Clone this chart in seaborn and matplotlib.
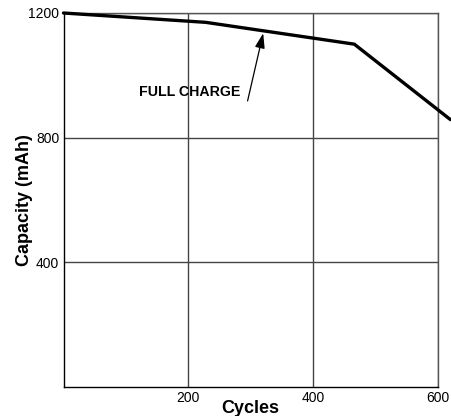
import matplotlib
matplotlib.use("Agg")
import matplotlib.pyplot as plt
import seaborn as sns
import pandas as pd

cycles = [0, 228, 466, 620]
capacity = [1200, 1170, 1100, 858]
x_ticks = [200, 400, 600]
y_ticks = [400, 800, 1200]
annotation_text = "FULL CHARGE"
arrow_head = (320, 1135)
arrow_tail = (295, 918)
text_pos = (283, 947)

sns.set_theme(style="white")
plt.rcParams['font.family'] = ['Liberation Sans', 'DejaVu Sans']
plt.rcParams['text.color'] = 'black'
plt.rcParams['axes.labelcolor'] = 'black'
plt.rcParams['xtick.color'] = 'black'
plt.rcParams['ytick.color'] = 'black'

df = pd.DataFrame({"Cycles": cycles, "Capacity": capacity})

fig = plt.figure(figsize=(4.51, 4.16), dpi=100)
ax = fig.add_axes([0.1408, 0.0697, 0.971 - 0.1408, 0.96875 - 0.0697])

sns.lineplot(data=df, x="Cycles", y="Capacity", ax=ax, color="black",
             linewidth=2.4, clip_on=False, zorder=5)

ax.set_xlim(0, 600)
ax.set_ylim(0, 1200)
ax.set_xticks(x_ticks)
ax.set_yticks(y_ticks)
ax.set_xticklabels([str(v) for v in x_ticks], fontsize=10)
ax.set_yticklabels([str(v) for v in y_ticks], fontsize=10)
ax.tick_params(length=0, pad=3)

ax.grid(True, color="#444444", linewidth=1.0)
for s in ax.spines.values():
    s.set_color("#555555")
    s.set_linewidth(1.0)
ax.spines['left'].set_color("black")
ax.spines['bottom'].set_color("black")

ax.set_xlabel("Cycles", fontsize=13, fontweight="bold", labelpad=-4)
ax.set_ylabel("Capacity (mAh)", fontsize=13, fontweight="bold")
ax.yaxis.set_label_coords(-0.081, 0.5)

ax.text(text_pos[0], text_pos[1], annotation_text, ha="right", va="center",
        fontsize=10.2, fontweight="bold")
ax.annotate("", xy=arrow_head, xytext=arrow_tail,
            arrowprops=dict(arrowstyle="-|>,head_length=0.9,head_width=0.3",
                            color="black", lw=0.9,
                            mutation_scale=10, shrinkA=0, shrinkB=0))

fig.savefig("out.png", dpi=100)
